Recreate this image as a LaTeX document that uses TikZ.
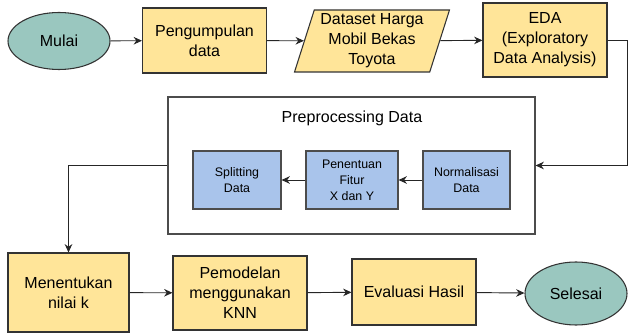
\documentclass[tikz,border=0pt]{standalone}
\usepackage{fontspec}
\setmainfont{Liberation Sans}
\usepackage{tikz}
\usetikzlibrary{arrows.meta, positioning, calc, shapes.geometric}
\definecolor{tealsoft}{HTML}{9AC7BF}
\definecolor{yellowsoft}{HTML}{FFE599}
\definecolor{bluesoft}{HTML}{A9C4EB}
\definecolor{lineclr}{HTML}{333333}
\tikzset{
  >=Stealth,
  font=\fontsize{12}{15}\selectfont,
  proses/.style={
    draw=lineclr, fill=yellowsoft, line width=0.8pt,
    align=center, inner sep=0pt
  },
  terminal/.style={
    ellipse, draw=lineclr, fill=tealsoft, line width=0.8pt,
    align=center, inner sep=0pt
  },
  datain/.style={
    trapezium, trapezium left angle=72, trapezium right angle=108,
    trapezium stretches=true,
    draw=lineclr, fill=yellowsoft, line width=0.8pt,
    align=center, inner sep=0pt
  },
  subproses/.style={
    draw=black!70, fill=bluesoft, line width=0.8pt,
    align=center, inner sep=0pt, font=\fontsize{9.3}{12}\selectfont
  },
  flowline/.style={line width=0.7pt, draw=black!85, -{Stealth[length=2.2mm,width=2mm]}}
}
\begin{document}
\begin{tikzpicture}[x=0.75pt,y=-0.75pt]
  \useasboundingbox (0,0) rectangle (628,334);
  % baris atas
  \node[terminal,minimum width=76.5pt,minimum height=42.75pt] (mulai) at (59,41) {Mulai};
  \node[proses,minimum width=93pt,minimum height=48.75pt] (kumpul) at (204.5,40.5) {Pengumpulan\\data};
  \node[datain,minimum width=116.25pt,minimum height=46.5pt] (dataset) at (372,41) {Dataset Harga\\Mobil Bekas\\Toyota};
  \node[proses,minimum width=93pt,minimum height=55.5pt] (eda) at (545,40) {EDA\\(Exploratory\\Data Analysis)};
  \draw[flowline] (mulai) -- (kumpul);
  \draw[flowline] (kumpul) -- (dataset);
  \draw[flowline] (dataset) -- (eda);
  % preprocessing
  \node[draw=black!70,fill=white,line width=0.8pt,minimum width=275.25pt,minimum height=102.75pt,inner sep=0pt] (prep) at (351.5,165.5) {};
  \node (judul) at (352,118) {Preprocessing Data};
  \node[subproses,minimum width=66pt,minimum height=43.5pt] (split) at (237,180) {Splitting\\Data};
  \node[subproses,minimum width=69pt,minimum height=43.5pt] (fitur) at (352,180) {Penentuan\\Fitur\\X dan Y};
  \node[subproses,minimum width=65.25pt,minimum height=43.5pt] (norm) at (466.5,180) {Normalisasi\\Data};
  \draw[flowline] (norm) -- (fitur);
  \draw[flowline] (fitur) -- (split);
  \coordinate (belok) at (627,40);
  \draw[flowline] (eda.east) -- (belok) |- (prep.east);
  % baris bawah
  \node[proses,minimum width=90.75pt,minimum height=59.25pt] (nilaik) at (68.5,292.5) {Menentukan\\nilai k};
  \node[proses,minimum width=100.5pt,minimum height=55.5pt] (knn) at (240,293) {Pemodelan\\menggunakan\\KNN};
  \node[proses,minimum width=93pt,minimum height=49.5pt] (evaluasi) at (414,292) {Evaluasi Hasil};
  \node[terminal,minimum width=76.5pt,minimum height=47.25pt] (selesai) at (576,293.5) {Selesai};
  \draw[flowline] (prep.west) -| (nilaik.north);
  \draw[flowline] (nilaik) -- (knn);
  \draw[flowline] (knn) -- (evaluasi);
  \draw[flowline] (evaluasi) -- (selesai);
\end{tikzpicture}
\end{document}
